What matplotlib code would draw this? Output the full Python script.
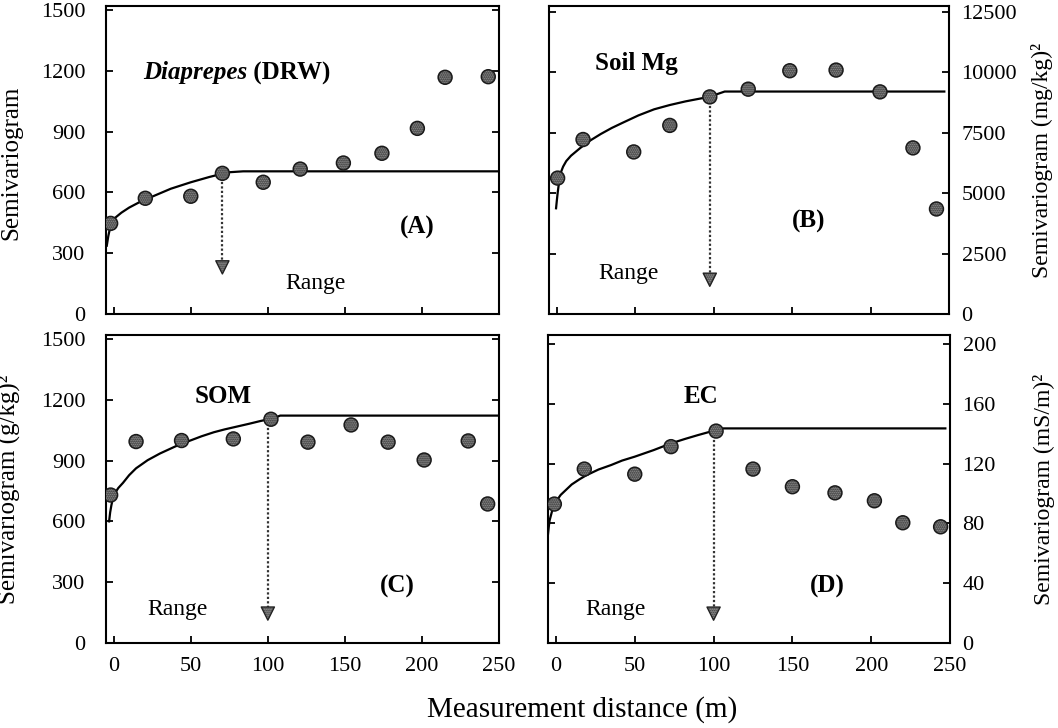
import matplotlib.pyplot as plt

plt.rcParams["font.family"] = ["Liberation Serif", "DejaVu Serif"]
plt.rcParams["hatch.linewidth"] = 1.0
plt.rcParams["hatch.color"] = "#2a2a2a"

# (A) Diaprepes (DRW)
dist_a = [-2, 20.5, 50, 70.5, 97, 121, 149, 174, 197, 215, 243]
gamma_a = [447, 571, 581, 694, 650, 715, 745, 793, 916, 1168, 1171]
model_x_a = [-4.5, -3.5, -2.5, -1, 0, 5, 10, 17, 24, 37, 50, 62, 74, 84, 250]
model_y_a = [337, 385, 420, 450, 469, 500, 525, 553, 576, 618, 650, 676, 699, 704, 704]

# (B) Soil Mg
dist_b = [0.5, 16.7, 49, 72, 97.5, 122, 148.5, 178, 206, 227, 242]
gamma_b = [5625, 7222, 6708, 7806, 8986, 9306, 10069, 10097, 9194, 6875, 4347]
model_x_b = [-0.5, 0, 0.5, 1.5, 2.5, 4, 6, 9, 15, 21, 28, 35, 42, 52, 62, 72, 82, 90, 97, 107, 247]
model_y_b = [4375, 4700, 5000, 5500, 5850, 6100, 6330, 6550, 6875, 7170, 7450, 7700, 7917,
             8220, 8472, 8650, 8800, 8900, 8986, 9208, 9208]

# (C) SOM
dist_c = [-2, 14.5, 44, 77.6, 102, 126, 154, 178, 201.4, 230, 242.6]
gamma_c = [730, 994, 999, 1007, 1104, 991, 1076, 991, 903, 997, 686]
model_x_c = [-3, -2.3, -1.5, -0.5, 0, 3, 6, 10, 14.5, 22, 30, 40, 49, 57, 65, 72, 80, 88, 95, 104, 108, 250]
model_y_c = [600, 645, 680, 715, 730, 765, 790, 828, 862, 902, 935, 970, 997, 1020, 1040,
             1054, 1068, 1082, 1095, 1110, 1122, 1122]

# (D) EC
dist_d = [-1, 18, 50, 73, 101.6, 125, 150, 177, 202, 220, 244]
gamma_d = [92.9, 116.3, 112.9, 131.3, 141.7, 116.3, 104.5, 100.4, 95.1, 80.4, 77.7]
model_x_d = [-5, -4.5, -4, -3, -2, -1, 1, 3, 5, 10, 15, 19, 27, 35, 42, 50, 62, 73, 82, 90, 101.6, 106, 247]
model_y_d = [73, 78, 82, 86, 90, 93, 96, 99, 101, 106, 109.5, 112, 116, 119, 122, 124.6,
             129, 133.5, 136.5, 139, 142.4, 143.5, 143.5]

# range arrows: x, top of line, centre of arrow head
range_a = (70.5, 694, 230)
range_b = (97.5, 8986, 1417)
range_c = (100, 1104, 145)
range_d = (100, 141.7, 19.6)

x_ticks = [0, 50, 100, 150, 200, 250]
y_ticks_a = [0, 300, 600, 900, 1200, 1500]
y_ticks_b = [0, 2500, 5000, 7500, 10000, 12500]
y_ticks_c = [0, 300, 600, 900, 1200, 1500]
y_ticks_d = [0, 40, 80, 120, 160, 200]


def draw_panel(ax, dist, gamma, mx, my, rng, yticks, ytop, right, bottom):
    ax.plot(mx, my, color="black", lw=1.6, zorder=2)
    rx, rtop, rhead = rng
    ax.plot([rx, rx], [rtop, rhead], color="#333333", lw=1.6, ls=(0, (1, 1)), zorder=2)
    ax.scatter([rx], [rhead], marker="v", s=90, facecolor="#a8a8a8",
               edgecolor="#222222", linewidths=1.0, hatch="........", zorder=3)
    ax.scatter(dist, gamma, s=100, facecolor="#a0a0a0", edgecolor="#1a1a1a",
               linewidths=1.1, hatch="........", zorder=4)

    ax.set_xlim(-5, 250)
    ax.set_ylim(0, ytop)
    ax.set_xticks(x_ticks)
    ax.set_yticks(yticks)
    for sp in ax.spines.values():
        sp.set_linewidth(1.5)

    ax.tick_params(axis="x", direction="in", top=False, length=5, width=1.3,
                   labelsize=16, pad=10, labelbottom=bottom)
    ax.tick_params(axis="y", direction="in", left=True, right=True, length=5,
                   width=1.3, labelsize=16)
    if right:
        ax.tick_params(axis="y", labelleft=False, labelright=True, pad=9)
    else:
        ax.tick_params(axis="y", pad=15)


fig = plt.figure(figsize=(10.58, 7.28), dpi=100)
ax_a = fig.add_axes([0.1002, 0.5687, 0.3715, 0.4231])
ax_b = fig.add_axes([0.5189, 0.5687, 0.3781, 0.4231])
ax_c = fig.add_axes([0.1002, 0.1168, 0.3715, 0.4231])
ax_d = fig.add_axes([0.5180, 0.1168, 0.3800, 0.4231])

draw_panel(ax_a, dist_a, gamma_a, model_x_a, model_y_a, range_a, y_ticks_a, 1520, False, False)
draw_panel(ax_b, dist_b, gamma_b, model_x_b, model_y_b, range_b, y_ticks_b, 12750, True, False)
draw_panel(ax_c, dist_c, gamma_c, model_x_c, model_y_c, range_c, y_ticks_c, 1520, False, True)
draw_panel(ax_d, dist_d, gamma_d, model_x_d, model_y_d, range_d, y_ticks_d, 206, True, True)

# axis labels
ax_a.set_ylabel("Semivariogram", fontsize=18)
ax_a.yaxis.set_label_coords(-0.214, 0.49)
ax_c.set_ylabel("Semivariogram (g/kg)\u00b2", fontsize=18)
ax_c.yaxis.set_label_coords(-0.216, 0.5)
for ax, lab in [(ax_b, "Semivariogram (mg/kg)\u00b2"), (ax_d, "Semivariogram (mS/m)\u00b2")]:
    ax.yaxis.set_label_position("right")
    ax.set_ylabel(lab, fontsize=17, rotation=90)
    ax.yaxis.set_label_coords(1.205, 0.5)

fig.text(0.55, 0.025, "Measurement distance (m)", fontsize=21, ha="center", va="center")

# panel annotations
lbl = dict(fontsize=18, weight="bold", ha="center", va="center")
ax_a.text(0.793, 0.28, "(A)", transform=ax_a.transAxes, **lbl)
ax_b.text(0.65, 0.30, "(B)", transform=ax_b.transAxes, **lbl)
ax_c.text(0.742, 0.183, "(C)", transform=ax_c.transAxes, **lbl)
ax_d.text(0.695, 0.185, "(D)", transform=ax_d.transAxes, **lbl)

rng_kw = dict(fontsize=17, ha="center", va="center")
ax_a.text(0.532, 0.098, "Range", transform=ax_a.transAxes, **rng_kw)
ax_b.text(0.198, 0.13, "Range", transform=ax_b.transAxes, **rng_kw)
ax_c.text(0.183, 0.11, "Range", transform=ax_c.transAxes, **rng_kw)
ax_d.text(0.167, 0.11, "Range", transform=ax_d.transAxes, **rng_kw)

ttl = dict(fontsize=18, weight="bold", ha="left", va="baseline")
t1 = ax_a.text(0.094, 0.762, "Diaprepes", style="italic", transform=ax_a.transAxes, **ttl)
fig.canvas.draw()
bb = t1.get_window_extent()
x2 = ax_a.transAxes.inverted().transform((bb.x1, 0))[0]
ax_a.text(x2, 0.762, " (DRW)", transform=ax_a.transAxes, **ttl)
ax_b.text(0.115, 0.792, "Soil Mg", transform=ax_b.transAxes, **ttl)
ax_c.text(0.226, 0.78, "SOM", transform=ax_c.transAxes, **ttl)
ax_d.text(0.336, 0.78, "EC", transform=ax_d.transAxes, **ttl)

fig.savefig("out.png", dpi=100)
